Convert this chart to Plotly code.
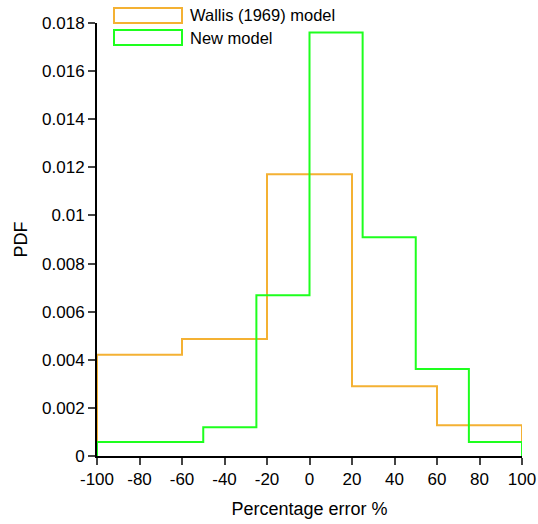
import plotly.graph_objects as go

# Data
wallis_edges = [-100, -60, -20, 20, 60, 100]
wallis_pdf = [0.00421, 0.00486, 0.01171, 0.00290, 0.00128]
new_edges = [-100, -50, -25, 0, 25, 50, 75, 100]
new_pdf = [0.00058, 0.00119, 0.00668, 0.01760, 0.00909, 0.00362, 0.00058]
x_ticks = [-100, -80, -60, -40, -20, 0, 20, 40, 60, 80, 100]
x_ticktext = ["-100", "-80", "-60", "-40", "-20", "0", "20", "40", "60", "80", "100"]
y_ticks = [0, 0.002, 0.004, 0.006, 0.008, 0.01, 0.012, 0.014, 0.016, 0.018]
y_ticktext = ["0", "0.002", "0.004", "0.006", "0.008", "0.01", "0.012", "0.014", "0.016", "0.018"]
series_names = ["Wallis (1969) model", "New model"]
colors = ["#F4B133", "#1EFF1E"]

def step(edges, vals):
    return [edges[0]] + list(edges), [0] + list(vals) + [0]

fig = go.Figure()
for edges, vals, name, c in [(wallis_edges, wallis_pdf, series_names[0], colors[0]),
                             (new_edges, new_pdf, series_names[1], colors[1])]:
    xs, ys = step(edges, vals)
    fig.add_trace(go.Scatter(x=xs, y=ys, mode="lines", line=dict(color=c, width=2, shape="hv"),
                             name=name, showlegend=False, cliponaxis=False))

font = "Liberation Sans, Arial, sans-serif"
W, H = 538, 524
ml, mr, mt, mb = 97, 16, 23, 68
pw, ph = W - ml - mr, H - mt - mb

def px_x(p):
    return (p - ml) / pw

def px_y(p):
    return (H - mb - p) / ph

shapes = []
annotations = []
for i, (name, c) in enumerate(zip(series_names, colors)):
    top = 8 + i * 22
    shapes.append(dict(type="rect", xref="paper", yref="paper",
                       x0=px_x(114), x1=px_x(182), y0=px_y(top + 15), y1=px_y(top),
                       line=dict(color=c, width=2), fillcolor="rgba(0,0,0,0)"))
    annotations.append(dict(xref="paper", yref="paper", x=px_x(188), y=px_y(top + 7.5),
                            text=name, showarrow=False, xanchor="left", yanchor="middle",
                            font=dict(family=font, size=16.5, color="black")))

fig.update_layout(
    width=W, height=H,
    margin=dict(l=ml, r=mr, t=mt, b=mb, autoexpand=False),
    plot_bgcolor="white", paper_bgcolor="white",
    font=dict(family=font, size=17, color="black"),
    shapes=shapes, annotations=annotations,
    showlegend=False,
)
fig.update_xaxes(range=[-100, 100], tickvals=x_ticks, ticktext=x_ticktext, ticks="outside", ticklen=7,
                 tickwidth=2, automargin=False,
                 showline=True, linewidth=2, linecolor="black", showgrid=False, zeroline=False,
                 title=dict(text="Percentage error %", font=dict(size=18), standoff=14))
fig.update_yaxes(range=[0, 0.018], tickvals=y_ticks, ticktext=y_ticktext, ticks="outside",
                 ticklen=7, tickwidth=2, automargin=False, showline=True, linewidth=2, linecolor="black",
                 showgrid=False, zeroline=False,
                 title=dict(text="PDF", font=dict(size=18), standoff=10))

fig.write_html("out.html")
